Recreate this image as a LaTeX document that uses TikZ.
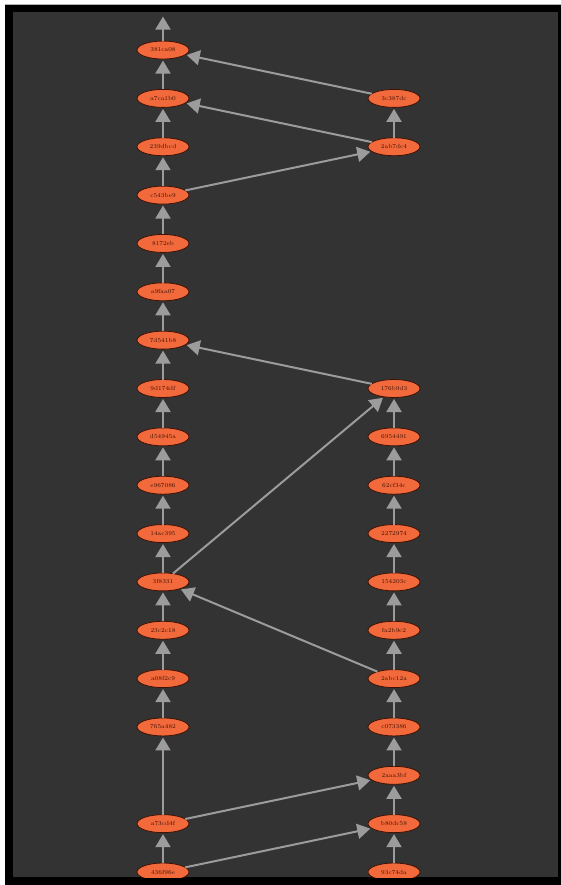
\documentclass[tikz,border=0pt]{standalone}
\usepackage{tikz}
\usetikzlibrary{arrows.meta,positioning,shapes.geometric}
\definecolor{panel}{HTML}{333333}
\definecolor{commitfill}{HTML}{F2693B}
\definecolor{commitline}{HTML}{3E1204}
\definecolor{linkgray}{HTML}{9C9C9C}

\begin{document}
\begin{tikzpicture}[x=1pt,y=-1pt,node distance=30.35pt,>={Triangle[length=13pt,width=15pt]},
  commit/.style={ellipse,draw=commitline,line width=0.8pt,fill=commitfill,inner sep=0pt,outer sep=0pt,
    minimum width=52pt,minimum height=18pt,text=commitline,font=\fontsize{6}{7}\selectfont},
  link/.style={->,draw=linkgray,line width=2pt,shorten >=1.5pt}]
\useasboundingbox (0,0) rectangle (561,885);
\fill[white] (0,0) rectangle (561,885);
\fill[black] (5,4.5) rectangle (561,885);
\draw[gray!60,line width=0.5pt] (5,4.5) -- (561,4.5);
\fill[panel] (13,12) rectangle (558,877);
\begin{scope}
\clip (13,12) rectangle (558,877);
% left branch
\node[commit] (436f96e) at (163,872) {436f96e};
\node[commit,above=of 436f96e] (a73cd4f) {a73cd4f};
\node[commit,above=78.7pt of a73cd4f] (765a482) {765a482};
\node[commit,above=of 765a482] (a08f2c9) {a08f2c9};
\node[commit,above=of a08f2c9] (23c2c18) {23c2c18};
\node[commit,above=of 23c2c18] (3f8331) {3f8331};
\node[commit,above=of 3f8331] (14ac395) {14ac395};
\node[commit,above=of 14ac395] (e967086) {e967086};
\node[commit,above=of e967086] (d54945a) {d54945a};
\node[commit,above=of d54945a] (9d174df) {9d174df};
\node[commit,above=of 9d174df] (7d541b8) {7d541b8};
\node[commit,above=of 7d541b8] (a9faa07) {a9faa07};
\node[commit,above=of a9faa07] (8172eb) {8172eb};
\node[commit,above=of 8172eb] (c543be9) {c543be9};
\node[commit,above=of c543be9] (239dbcd) {239dbcd};
\node[commit,above=of 239dbcd] (a7ca1b0) {a7ca1b0};
\node[commit,above=of a7ca1b0] (381ca08) {381ca08};
\coordinate[above=26pt of 381ca08] (parent);
% right branch
\node[commit,right=179pt of 436f96e] (93c74da) {93c74da};
\node[commit,above=of 93c74da] (b80dc58) {b80dc58};
\node[commit,above=of b80dc58] (2aaa3bf) {2aaa3bf};
\node[commit,above=of 2aaa3bf] (c073386) {c073386};
\node[commit,above=of c073386] (2abc12a) {2abc12a};
\node[commit,above=of 2abc12a] (fa2b9c2) {fa2b9c2};
\node[commit,above=of fa2b9c2] (154203c) {154203c};
\node[commit,above=of 154203c] (2272974) {2272974};
\node[commit,above=of 2272974] (62cf34c) {62cf34c};
\node[commit,above=of 62cf34c] (6954491) {6954491};
\node[commit,above=of 6954491] (176b9d3) {176b9d3};
\node[commit,right=179pt of 239dbcd] (2ab7dc4) {2ab7dc4};
\node[commit,above=of 2ab7dc4] (3c387dc) {3c387dc};
% history
\draw[link] (436f96e)--(a73cd4f);\draw[link] (a73cd4f)--(765a482);
\draw[link] (765a482)--(a08f2c9);\draw[link] (a08f2c9)--(23c2c18);
\draw[link] (23c2c18)--(3f8331);\draw[link] (3f8331)--(14ac395);
\draw[link] (14ac395)--(e967086);\draw[link] (e967086)--(d54945a);
\draw[link] (d54945a)--(9d174df);\draw[link] (9d174df)--(7d541b8);
\draw[link] (7d541b8)--(a9faa07);\draw[link] (a9faa07)--(8172eb);
\draw[link] (8172eb)--(c543be9);\draw[link] (c543be9)--(239dbcd);
\draw[link] (239dbcd)--(a7ca1b0);\draw[link] (a7ca1b0)--(381ca08);
\draw[link] (381ca08)--(parent);
\draw[link] (93c74da)--(b80dc58);\draw[link] (b80dc58)--(2aaa3bf);
\draw[link] (2aaa3bf)--(c073386);\draw[link] (c073386)--(2abc12a);
\draw[link] (2abc12a)--(fa2b9c2);\draw[link] (fa2b9c2)--(154203c);
\draw[link] (154203c)--(2272974);\draw[link] (2272974)--(62cf34c);
\draw[link] (62cf34c)--(6954491);\draw[link] (6954491)--(176b9d3);
\draw[link] (2ab7dc4)--(3c387dc);
% cross links
\draw[link] (436f96e)--(b80dc58);\draw[link] (a73cd4f)--(2aaa3bf);
\draw[link] (2abc12a)--(3f8331);\draw[link] (3f8331)--(176b9d3);
\draw[link] (176b9d3)--(7d541b8);\draw[link] (c543be9)--(2ab7dc4);
\draw[link] (2ab7dc4)--(a7ca1b0);\draw[link] (3c387dc)--(381ca08);
\end{scope}
\end{tikzpicture}
\end{document}
